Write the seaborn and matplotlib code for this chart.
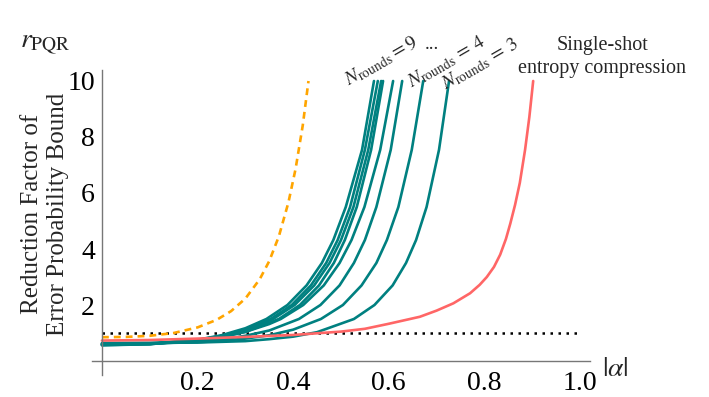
import numpy as np
import pandas as pd
import matplotlib
matplotlib.use("Agg")
import matplotlib.pyplot as plt
from matplotlib.ticker import MultipleLocator
import seaborn as sns

sns.set_theme(style="white")
plt.rcParams['font.family'] = ['Liberation Serif', 'DejaVu Serif']
plt.rcParams['mathtext.fontset'] = 'stix'

# values: |alpha| -> reduction factor r_PQR
single_x = [0, 0.1, 0.2, 0.3, 0.4, 0.5, 0.55, 0.6, 0.665, 0.7, 0.735, 0.77, 0.79, 0.805,
            0.82, 0.833, 0.845, 0.854, 0.864, 0.874, 0.885, 0.894, 0.902]
single_y = [0.73, 0.75, 0.80, 0.86, 0.93, 1.05, 1.15, 1.33, 1.58, 1.80, 2.06, 2.42, 2.72, 3.0,
            3.36, 3.8, 4.36, 4.9, 5.57, 6.36, 7.54, 8.72, 10]

orange_x = [0, 0.05, 0.1, 0.15, 0.2, 0.24, 0.27, 0.3, 0.33, 0.35, 0.37, 0.39, 0.405, 0.42, 0.432]
orange_y = [0.85, 0.86, 0.90, 1.0, 1.2, 1.47, 1.78, 2.23, 2.92, 3.57, 4.45, 5.66, 6.86, 8.41, 10]

n3_x = [0, 0.2, 0.3, 0.35, 0.4, 0.45, 0.527, 0.570, 0.608, 0.636, 0.657, 0.679, 0.705, 0.726]
n3_y = [0.64, 0.66, 0.71, 0.78, 0.87, 1.03, 1.5, 2.0, 2.7, 3.5, 4.32, 5.5, 7.54, 10]
n4_x = [0, 0.1, 0.2, 0.25, 0.3, 0.35, 0.4, 0.458, 0.504, 0.543, 0.574, 0.596, 0.620, 0.648, 0.672]
n4_y = [0.62, 0.63, 0.67, 0.72, 0.80, 0.92, 1.12, 1.5, 2.0, 2.7, 3.5, 4.32, 5.5, 7.54, 10]
n5_x = [0, 0.1, 0.2, 0.25, 0.3, 0.35, 0.412, 0.457, 0.497, 0.527, 0.550, 0.574, 0.604, 0.628]
n5_y = [0.61, 0.62, 0.69, 0.77, 0.90, 1.09, 1.5, 2.0, 2.7, 3.5, 4.32, 5.5, 7.54, 10]
n6_x = [0, 0.1, 0.2, 0.25, 0.3, 0.35, 0.374, 0.421, 0.464, 0.497, 0.522, 0.549, 0.582, 0.609]
n6_y = [0.60, 0.63, 0.75, 0.86, 1.04, 1.32, 1.5, 2.0, 2.7, 3.5, 4.32, 5.5, 7.54, 10]
n7_x = [0, 0.1, 0.2, 0.25, 0.3, 0.370, 0.414, 0.454, 0.485, 0.508, 0.533, 0.563, 0.588]
n7_y = [0.59, 0.61, 0.73, 0.85, 1.04, 1.5, 2.0, 2.7, 3.5, 4.32, 5.5, 7.54, 10]
n8_x = [0, 0.1, 0.2, 0.25, 0.3, 0.358, 0.403, 0.444, 0.476, 0.500, 0.526, 0.557, 0.584]
n8_y = [0.58, 0.61, 0.75, 0.89, 1.10, 1.5, 2.0, 2.7, 3.5, 4.32, 5.5, 7.54, 10]
n9_x = [0, 0.1, 0.2, 0.25, 0.3, 0.353, 0.397, 0.437, 0.469, 0.493, 0.519, 0.550, 0.577]
n9_y = [0.57, 0.60, 0.75, 0.90, 1.12, 1.5, 2.0, 2.7, 3.5, 4.32, 5.5, 7.54, 10]
n10_x = [0, 0.1, 0.2, 0.25, 0.3, 0.344, 0.388, 0.428, 0.460, 0.484, 0.510, 0.544, 0.569]
n10_y = [0.56, 0.60, 0.76, 0.92, 1.17, 1.5, 2.0, 2.7, 3.5, 4.32, 5.5, 7.54, 10]

ref_x = [0.0, 1.0]
ref_y = [1.0, 1.0]

teal = "#008080"
fig = plt.figure(figsize=(7.09, 3.97), dpi=100)
ax = fig.add_axes([0.1303, 0.0554, 0.7013, 0.7688])

# dotted reference at r = 1
sns.lineplot(x=ref_x, y=ref_y, color="black", lw=1.8, ax=ax)
ax.lines[-1].set_dashes((1, 2.2))

rounds = [(n3_x, n3_y), (n4_x, n4_y), (n5_x, n5_y), (n6_x, n6_y),
          (n7_x, n7_y), (n8_x, n8_y), (n9_x, n9_y), (n10_x, n10_y)]
for xs, ys in rounds:
    sns.lineplot(x=xs, y=ys, color=teal, lw=1.9, ax=ax, estimator=None)

sns.lineplot(x=single_x, y=single_y, color="#ff6666", lw=1.9, ax=ax, estimator=None)
sns.lineplot(x=orange_x, y=orange_y, color="#ffa500", lw=1.9, ax=ax, estimator=None)
ax.lines[-1].set_dashes((2.6, 1.9))

ax.set_xlim(-0.02, 1.02)
ax.set_ylim(-0.5, 10.4)

# mathematica style axes crossing at the origin
for s in ["top", "right"]:
    ax.spines[s].set_visible(False)
ax.spines["left"].set_position(("data", 0))
ax.spines["bottom"].set_position(("data", 0))
for s in ["left", "bottom"]:
    ax.spines[s].set_color("#777777")
    ax.spines[s].set_linewidth(1.0)

ax.set_xticks([0.2, 0.4, 0.6, 0.8, 1.0])
ax.set_xticklabels(["0.2", "0.4", "0.6", "0.8", "1.0"])
ax.set_yticks([2, 4, 6, 8, 10])
ax.xaxis.set_minor_locator(MultipleLocator(0.05))
ax.yaxis.set_minor_locator(MultipleLocator(0.5))
ax.tick_params(which="both", direction="in", color="#777777", width=0.8,
               labelsize=20, labelcolor="black")
ax.tick_params(which="major", length=5)
ax.tick_params(which="minor", length=3)
ax.tick_params(axis="x", pad=7)
ax.tick_params(axis="y", pad=5)
ax.grid(False)

ax.text(1.073, -0.3, r"$|\alpha|$", fontsize=20, ha="center", va="center")
ax.text(-0.119, 11.29, r"$r_{\rm PQR}$", fontsize=20, ha="center", va="center")
fig.text(45 / 709, 1 - 214 / 397, "Reduction Factor of\nError Probability Bound",
         rotation=90, fontsize=18, ha="center", va="center", linespacing=1.25,
         multialignment="center")

kw = dict(fontsize=14, rotation=30, ha="center", va="center", rotation_mode="anchor")
ax.text(0.585, 10.72, r"$N_{\rm rounds}=9$", **kw)
ax.text(0.690, 11.29, "...", fontsize=14, ha="center", va="center")
ax.text(0.720, 10.68, r"$N_{\rm rounds}\,=\,4$", **kw)
ax.text(0.792, 10.6, r"$N_{\rm rounds}\,=\,3$", **kw)
ax.text(1.046, 10.86, "Single-shot\nentropy compression", fontsize=14.5,
        ha="center", va="center", linespacing=1.3, multialignment="center")

fig.savefig("out.png", dpi=100)
